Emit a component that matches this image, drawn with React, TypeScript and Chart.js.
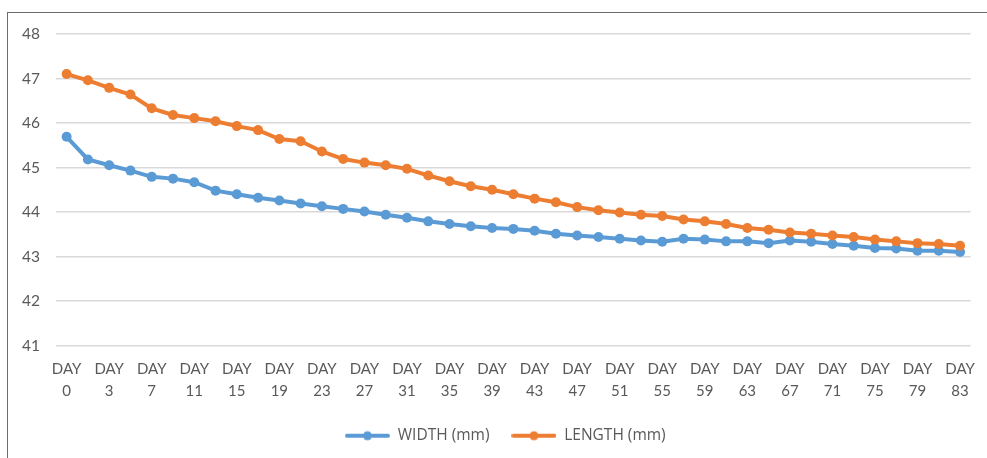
import React, { useEffect, useRef } from "react";
import { Chart, registerables } from "chart.js";

Chart.register(...registerables);

const days: number[] = [
  0, 1, 3, 5, 7, 9, 11, 13, 15, 17, 19, 21, 23, 25, 27, 29, 31, 33, 35, 37, 39, 41,
  43, 45, 47, 49, 51, 53, 55, 57, 59, 61, 63, 65, 67, 69, 71, 73, 75, 77, 79, 81, 83,
];

const widthMm: number[] = [
  45.69, 45.18, 45.05, 44.93, 44.79, 44.75, 44.67, 44.48, 44.4, 44.32, 44.26,
  44.19, 44.13, 44.07, 44.01, 43.94, 43.87, 43.79, 43.73, 43.68, 43.64,
  43.62, 43.58, 43.51, 43.47, 43.44, 43.4, 43.36, 43.33, 43.4, 43.38,
  43.34, 43.34, 43.3, 43.36, 43.33, 43.28, 43.24, 43.19, 43.18, 43.13,
  43.13, 43.1,
];

const lengthMm: number[] = [
  47.1, 46.96, 46.79, 46.64, 46.33, 46.18, 46.11, 46.04, 45.93, 45.84, 45.64,
  45.59, 45.36, 45.19, 45.11, 45.05, 44.97, 44.82, 44.69, 44.58, 44.5,
  44.4, 44.3, 44.22, 44.11, 44.04, 43.99, 43.94, 43.91, 43.83, 43.79,
  43.73, 43.64, 43.6, 43.54, 43.51, 43.47, 43.44, 43.38, 43.34, 43.3,
  43.28, 43.24,
];

const seriesNames: string[] = ["WIDTH (mm)", "LENGTH (mm)"];
const yTicks: number[] = [41, 42, 43, 44, 45, 46, 47, 48];

const BLUE = "#5B9BD5";
const ORANGE = "#ED7D31";
const FONT = "Lato, 'Open Sans', sans-serif";
const LEGEND_FONT = "'Open Sans', Lato, sans-serif";

function makeIcon(color: string): HTMLCanvasElement {
  const c = document.createElement("canvas");
  c.width = 45;
  c.height = 12;
  const g = c.getContext("2d")!;
  g.strokeStyle = color;
  g.lineWidth = 4;
  g.lineCap = "round";
  g.beginPath();
  g.moveTo(2, 6);
  g.lineTo(43, 6);
  g.stroke();
  g.fillStyle = color;
  g.beginPath();
  g.arc(22.5, 6, 4.5, 0, Math.PI * 2);
  g.fill();
  return c;
}

export default function App() {
  const ref = useRef<HTMLCanvasElement>(null);

  useEffect(() => {
    if (!ref.current) return;
    const icons = [makeIcon(BLUE), makeIcon(ORANGE)];
    const legendShift = {
      id: "legendShift",
      afterLayout(chart: any) {
        const l = chart.legend;
        if (l) {
          l.left -= 8;
          l.right -= 8;
        }
      },
    };
    const chart = new Chart(ref.current, {
      type: "line",
      data: {
        labels: days.map((d) => ["DAY", String(d)]),
        datasets: [
          {
            label: seriesNames[0],
            data: widthMm,
            borderColor: BLUE,
            backgroundColor: BLUE,
            borderWidth: 4,
            pointRadius: 5,
            pointBorderWidth: 0,
            pointBackgroundColor: BLUE,
            tension: 0,
            order: 1,
          },
          {
            label: seriesNames[1],
            data: lengthMm,
            borderColor: ORANGE,
            backgroundColor: ORANGE,
            borderWidth: 4,
            pointRadius: 5,
            pointBorderWidth: 0,
            pointBackgroundColor: ORANGE,
            tension: 0,
            order: 0,
          },
        ],
      },
      options: {
        animation: false,
        responsive: false,
        maintainAspectRatio: false,
        layout: { padding: { top: 34, right: 13, bottom: 4.5, left: 0 } },
        plugins: {
          tooltip: { enabled: false },
          legend: {
            position: "bottom",
            fullSize: false,
            labels: {
              usePointStyle: true,
              pointStyleWidth: 45,
              padding: 22,
              color: "#595959",
              font: { family: LEGEND_FONT, size: 15.5 },
              sort: (a: any, b: any) => a.datasetIndex - b.datasetIndex,
              generateLabels: (chart: any) => {
                const items = Chart.defaults.plugins.legend.labels.generateLabels(chart);
                return items.map((it: any) => ({
                  ...it,
                  pointStyle: icons[it.datasetIndex],
                }));
              },
            },
          },
        },
        scales: {
          x: {
            offset: true,
            grid: { display: false, drawTicks: false },
            border: { display: false },
            ticks: {
              autoSkip: false,
              maxRotation: 0,
              minRotation: 0,
              padding: 12,
              color: "#595959",
              font: { family: FONT, size: 15, lineHeight: 1.5 },
              callback: function (this: any, _v: any, i: number) {
                return i % 2 === 0 ? ["DAY", String(days[i])] : "";
              },
            },
            afterFit: (axis: any) => {
              axis.height = 60.5;
            },
          },
          y: {
            min: yTicks[0],
            max: yTicks[yTicks.length - 1],
            grid: { color: "#d9d9d9", lineWidth: 1.5, drawTicks: false },
            border: { display: false },
            ticks: {
              stepSize: 1,
              padding: 16,
              color: "#595959",
              font: { family: FONT, size: 15.5 },
            },
            afterFit: (axis: any) => {
              axis.width = 56;
            },
          },
        },
      },
      plugins: [legendShift],
    });
    return () => chart.destroy();
  }, []);

  return (
    <div style={{ position: "fixed", left: 0, top: 0, width: 987, height: 458, background: "#fff" }}>
      <canvas ref={ref} width={987} height={458} style={{ position: "absolute", left: 0, top: 0, width: 987, height: 458 }} />
      <div
        style={{
          position: "absolute",
          left: 7,
          top: 12,
          width: 980,
          height: 446,
          borderTop: "1px solid #6b6b6b",
          borderLeft: "1px solid #6b6b6b",
          pointerEvents: "none",
          boxSizing: "border-box",
        }}
      />
    </div>
  );
}
